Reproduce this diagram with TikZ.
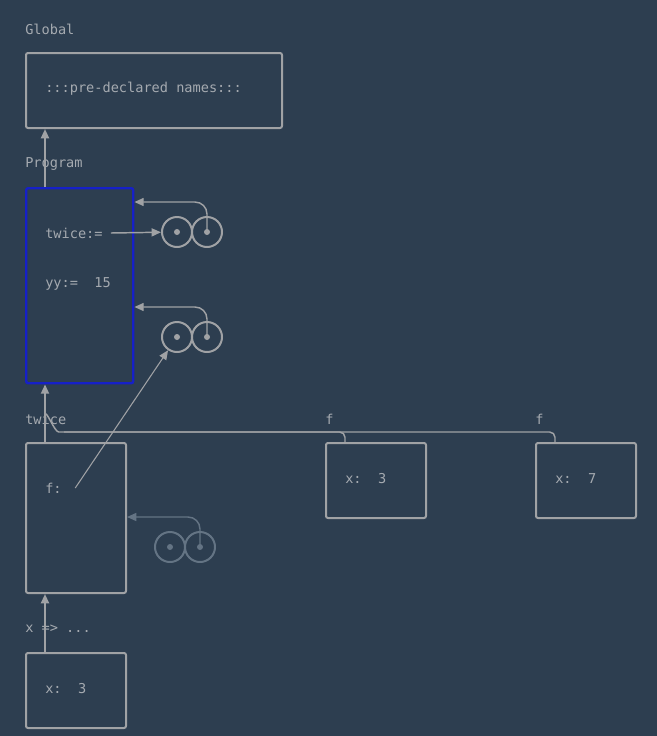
\documentclass[tikz,border=0pt]{standalone}
\usepackage{fontspec}
\setmonofont{DejaVu Sans Mono}
\usepackage{tikz}
\usetikzlibrary{arrows.meta}

\definecolor{bgc}{RGB}{45,62,80}
\definecolor{linegray}{RGB}{160,162,165}
\definecolor{textgray}{RGB}{165,170,176}
\definecolor{dimgray}{RGB}{100,116,132}
\definecolor{frameblue}{RGB}{22,32,200}

\begin{document}
\begin{tikzpicture}[x=0.75pt,y=0.75pt,yscale=-1,xscale=1,
  txt/.style={anchor=west,inner sep=0pt,text=textgray,font=\ttfamily\fontsize{10.2}{12}\selectfont},
  frame/.style={draw=linegray,line width=1.5pt,rounded corners=1.5pt,anchor=north west,inner sep=0pt},
  circ/.style={circle,draw=linegray,line width=1.5pt,minimum size=22.5pt,inner sep=0pt},
  arr/.style={draw=linegray,line width=1.5pt,-{Triangle[length=7pt,width=6pt]}},
  ptr/.style={draw=linegray,line width=1.1pt,rounded corners=9pt,-{Triangle[length=7pt,width=6pt]}},
  link/.style={draw=linegray,line width=1.1pt,rounded corners=4pt}]
\fill[bgc] (0,0) rectangle (657,736);

\node[txt] (globlbl) at (25,29) {Global};
\node[frame,minimum width=192pt,minimum height=56.25pt] (global) at (25,52) {};
\node[txt] (predecl) at (45,89) {:::pre-declared names:::};

\node[txt] (proglbl) at (25,164) {Program};
\node[frame,draw=frameblue,line width=1.8pt,minimum width=80.25pt,minimum height=146.25pt] (program) at (25,187) {};
\node[txt] (twicevar) at (45,233) {twice:=};
\node[txt] (yyvar) at (45,284) {yy:=\ \ 15};

\node[circ] (c1a) at (177,232) {};
\node[circ] (c1b) at (207,232) {};
\node[circ] (c2a) at (177,337) {};
\node[circ] (c2b) at (207,337) {};
\node[circ,draw=dimgray] (c3a) at (170,547) {};
\node[circ,draw=dimgray] (c3b) at (200,547) {};
\foreach \c in {c1a,c1b,c2a,c2b} \fill[linegray] (\c) circle[radius=2.25pt];
\foreach \c in {c3a,c3b} \fill[dimgray] (\c) circle[radius=2.25pt];

\node[txt] (twicelbl) at (25,419) {twice};
\node[frame,minimum width=75pt,minimum height=112.5pt] (twice) at (25,442) {};
\node[txt] (fvar) at (45,488) {f:};

\node[txt] (f1lbl) at (325,419) {f};
\node[frame,minimum width=75pt,minimum height=56.25pt] (f1) at (325,442) {};
\node[txt] (f1x) at (345,479) {x:\ \ 3};
\node[txt] (f2lbl) at (535,419) {f};
\node[frame,minimum width=75pt,minimum height=56.25pt] (f2) at (535,442) {};
\node[txt] (f2x) at (555,479) {x:\ \ 7};

\node[txt] (xlbl) at (25,629) {x => ...};
\node[frame,minimum width=75pt,minimum height=56.25pt] (xfr) at (25,652) {};
\node[txt] (xx) at (45,689) {x:\ \ 3};

\draw[arr] ([xshift=15pt]program.north west) -- ([xshift=15pt]global.south west);
\draw[arr] ([xshift=15pt]twice.north west) -- ([xshift=15pt]program.south west);
\draw[arr] ([xshift=15pt]xfr.north west) -- ([xshift=15pt]twice.south west);

\draw[ptr] ([xshift=6pt]twicevar.east) -- (c1a);
\draw[ptr] (c1b.center) |- ([yshift=11.25pt]program.north east);
\draw[ptr] (c2b.center) |- ([yshift=90pt]program.north east);
\draw[ptr,draw=dimgray] (c3b.center) |- ([yshift=56.25pt]twice.north east);
\draw[ptr,line width=0.8pt] ([xshift=10pt]fvar.east) -- (c2a);

\coordinate (bend) at (64,432);
\coordinate (join) at (45,416);
\draw[link] ([xshift=15pt]f1.north west) |- (bend) to[out=180,in=-90] (join);
\draw[link] ([xshift=15pt]f2.north west) |- (bend);
\end{tikzpicture}
\end{document}
